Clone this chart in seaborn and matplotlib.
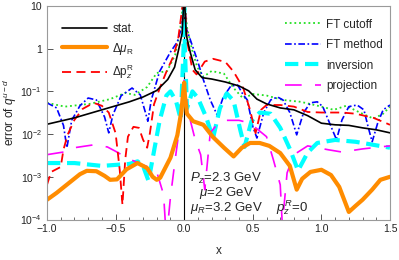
import numpy as np
import pandas as pd
import matplotlib
matplotlib.use("Agg")
import matplotlib.pyplot as plt
import seaborn as sns
from matplotlib.lines import Line2D

# ----------------------------
# Data
# ----------------------------
stat_x = [-1.0, -0.8, -0.6, -0.4, -0.3, -0.2, -0.12, -0.07, -0.04, -0.015, 0.0,
          0.015, 0.045, 0.08, 0.13, 0.2, 0.3, 0.4, 0.47, 0.53, 0.6, 0.7, 0.8,
          0.9, 1.0, 1.1, 1.2, 1.3, 1.4, 1.5]
stat_y = [0.017, 0.024, 0.037, 0.057, 0.074, 0.105, 0.19, 0.37, 0.97, 2.3, 20,
          2.1, 0.8, 0.32, 0.21, 0.195, 0.166, 0.134, 0.103, 0.066, 0.051, 0.041, 0.037,
          0.027, 0.018, 0.0165, 0.016, 0.014, 0.0126, 0.0107]

mu_x = [-1.0, -0.93, -0.83, -0.76, -0.71, -0.64, -0.58, -0.54, -0.49, -0.42, -0.34,
        -0.27, -0.23, -0.2, -0.175, -0.1, -0.05, -0.02, -0.007, 0.0, 0.005, 0.02,
        0.065, 0.14, 0.21, 0.29, 0.36, 0.42, 0.48, 0.55, 0.62, 0.7, 0.77, 0.82,
        0.86, 0.92, 1.0, 1.07, 1.13, 1.2, 1.25, 1.3, 1.37, 1.43, 1.5]
mu_y = [2.9e-4, 4.2e-4, 7.6e-4, 1.15e-3, 1.38e-3, 1.35e-3, 1.05e-3, 8.5e-4, 8.7e-4, 1.5e-3, 2.1e-3,
        1.6e-3, 1.0e-3, 8.5e-4, 9.5e-4, 2.8e-3, 9.4e-3, 0.035, 0.1, 0.16, 0.08, 0.03,
        0.02, 0.0165, 0.0085, 0.0048, 3.0e-3, 4.8e-3, 6.2e-3, 6.2e-3, 5.3e-3, 3.6e-3, 1.8e-3, 5e-4,
        9e-4, 1.3e-3, 1.46e-3, 1.1e-3, 5.8e-4, 1.5e-4, 2.1e-4, 2.9e-4, 5e-4, 8.5e-4, 1.0e-3]

pz_x = [-1.0, -0.97, -0.9, -0.88, -0.85, -0.8, -0.74, -0.66, -0.6, -0.55, -0.5,
        -0.47, -0.45, -0.43, -0.41, -0.37, -0.33, -0.3, -0.27, -0.25, -0.22, -0.175,
        -0.124, -0.08, -0.045, 0.0, 0.02, 0.06, 0.09, 0.15, 0.21, 0.3, 0.36, 0.43,
        0.48, 0.52, 0.56, 0.6, 0.7, 0.8, 0.9, 1.0, 1.15, 1.25, 1.38, 1.5]
pz_y = [6.5e-4, 1.3e-3, 1.7e-3, 4.3e-3, 9.6e-3, 0.0215, 0.039, 0.054, 0.046, 0.032, 0.0105,
        1.46e-3, 2.2e-4, 2.5e-3, 8.7e-3, 0.0148, 0.014, 0.0074, 0.0048, 0.0105, 0.05, 0.127,
        0.32, 0.65, 1.6, 20, 1.6, 0.32, 0.25, 0.5, 0.58, 0.49, 0.29, 0.12,
        0.037, 0.0105, 0.037, 0.048, 0.048, 0.044, 0.033, 0.032, 0.032, 0.03, 0.024, 0.0165]

cut_x = [-1.0, -0.87, -0.69, -0.54, -0.43, -0.36, -0.27, -0.2, -0.124, -0.066, -0.03,
         0.0, 0.02, 0.058, 0.095, 0.14, 0.2, 0.29, 0.36, 0.43, 0.5, 0.6, 0.72, 0.85,
         1.0, 1.09, 1.18, 1.28, 1.38, 1.45, 1.5]
cut_y = [0.054, 0.044, 0.051, 0.066, 0.092, 0.083, 0.127, 0.27, 0.30, 0.71, 2.7,
         20, 3.2, 0.93, 0.37, 0.22, 0.30, 0.26, 0.12, 0.068, 0.087, 0.08, 0.063, 0.057,
         0.044, 0.037, 0.046, 0.032, 0.023, 0.030, 0.044]

ft_x = [-1.0, -0.93, -0.88, -0.855, -0.82, -0.76, -0.7, -0.64, -0.58, -0.55, -0.52,
        -0.46, -0.38, -0.32, -0.28, -0.265, -0.24, -0.18, -0.1, -0.05, -0.015, 0.0,
        0.015, 0.045, 0.095, 0.14, 0.19, 0.24, 0.285, 0.34, 0.39, 0.43, 0.46, 0.5,
        0.53, 0.58, 0.63, 0.68, 0.72, 0.77, 0.82, 0.87, 0.92, 0.97, 1.01, 1.06,
        1.11, 1.15, 1.2, 1.26, 1.31, 1.34, 1.37, 1.41, 1.45, 1.5]
ft_y = [0.054, 0.041, 0.016, 0.0048, 0.021, 0.046, 0.07, 0.063, 0.025, 0.0107, 0.028,
        0.079, 0.12, 0.083, 0.03, 0.02, 0.063, 0.29, 0.84, 1.44, 3.6, 20,
        3.0, 1.6, 0.55, 0.186, 0.063, 0.028, 0.074, 0.134, 0.14, 0.083, 0.063, 0.015,
        0.0081, 0.032, 0.063, 0.074, 0.063, 0.032, 0.0096, 0.032, 0.054, 0.057, 0.044, 0.018,
        0.0074, 0.0215, 0.044, 0.048, 0.037, 0.015, 0.0066, 0.018, 0.037, 0.048]

inv_x = [-1.0, -0.8, -0.6, -0.5, -0.4, -0.34, -0.3, -0.26, -0.22, -0.18, -0.13,
         -0.1, -0.06, -0.025, -0.005, 0.0, 0.005, 0.02, 0.06, 0.1, 0.16, 0.21, 0.26,
         0.31, 0.36, 0.41, 0.44, 0.49, 0.55, 0.63, 0.7, 0.77, 0.83, 0.9, 0.97, 1.1,
         1.25, 1.38, 1.5]
inv_y = [2.1e-3, 2.1e-3, 1.8e-3, 1.9e-3, 2.0e-3, 2.3e-3, 1.8e-3, 8e-4, 4e-3, 0.02, 0.08,
         0.1, 0.06, 0.022, 1.0, 20, 1.0, 0.04, 0.1, 0.07, 0.025, 0.008, 0.04,
         0.09, 0.06, 0.012, 0.005, 0.02, 0.032, 0.03, 0.014, 0.0045, 0.0014, 0.0037, 0.0062, 0.0073,
         0.0066, 0.0056, 0.0048]

proj_x = [-1.0, -0.88, -0.8, -0.66, -0.56, -0.49, -0.42, -0.32, -0.24, -0.2, -0.15,
          -0.13, -0.1, -0.066, -0.03, -0.007, 0.0, 0.007, 0.03, 0.08, 0.12, 0.15, 0.19,
          0.24, 0.31, 0.4, 0.48, 0.6, 0.65, 0.7, 0.715, 0.75, 0.8, 0.9, 1.05, 1.15,
          1.3, 1.5]
proj_y = [3.3e-3, 3.8e-3, 4.8e-3, 5.6e-3, 5.0e-3, 3.8e-3, 2.8e-3, 2.0e-3, 1.6e-3, 1.3e-3, 3.8e-4,
          3.4e-5, 3.4e-4, 2.5e-3, 0.018, 0.11, 0.2, 0.1, 0.032, 7.4e-3, 3.3e-3, 5e-4, 0.0107,
          0.017, 0.021, 0.021, 0.018, 8.7e-3, 2.5e-3, 6.5e-4, 7.5e-5, 1.24e-3, 3.3e-3, 5.3e-3, 4.3e-3, 3.8e-3,
          4.5e-3, 5.3e-3]

x_ticks = [-1.0, -0.5, 0.0, 0.5, 1.0, 1.5]
x_tick_labels = ["\u22121.0", "\u22120.5", "0.0", "0.5", "1.0", "1.5"]
y_ticks = [1e-4, 1e-3, 1e-2, 1e-1, 1, 10]
y_tick_labels = ["$10^{-4}$", "$10^{-3}$", "$10^{-2}$", "$10^{-1}$", "1", "10"]

# ----------------------------
# Style
# ----------------------------
sns.set_style("ticks")
plt.rcParams["font.family"] = ["Liberation Sans", "DejaVu Sans"]
plt.rcParams["mathtext.fontset"] = "custom"
plt.rcParams["mathtext.rm"] = "Liberation Sans"
plt.rcParams["mathtext.it"] = "Liberation Sans:italic"
plt.rcParams["mathtext.bf"] = "Liberation Sans:bold"

fig = plt.figure(figsize=(3.99, 2.60), dpi=100)
ax = fig.add_axes([47 / 399, 1 - 219.5 / 260, 343 / 399, 213.5 / 260])

series = [
    (cut_x, cut_y, dict(color="#22e022", lw=1.3, ls=(0, (1, 1.6)))),
    (ft_x, ft_y, dict(color="#0000ff", lw=1.2, ls=(0, (4, 1.5, 1, 1.5)))),
    (inv_x, inv_y, dict(color="#00ffff", lw=3.0, ls=(0, (3.2, 1.6)))),
    (proj_x, proj_y, dict(color="#ff00ff", lw=1.2, ls=(0, (10, 8)))),
    (pz_x, pz_y, dict(color="#ff0000", lw=1.3, ls=(0, (5, 3)))),
    (mu_x, mu_y, dict(color="#ff8c00", lw=3.0, ls="-")),
    (stat_x, stat_y, dict(color="black", lw=1.2, ls="-")),
]
for xs, ys, kw in series:
    df = pd.DataFrame({"x": xs, "y": ys})
    sns.lineplot(data=df, x="x", y="y", ax=ax, sort=False, estimator=None,
                 color=kw["color"], linewidth=kw["lw"], linestyle=kw["ls"])

ax.axvline(0, color="black", lw=0.8, zorder=1)

ax.set_yscale("log")
ax.set_xlim(-1.0, 1.5)
ax.set_ylim(1e-4, 10)
ax.set_xticks(x_ticks)
ax.set_xticklabels(x_tick_labels)
ax.set_xticks(np.arange(-1.0, 1.51, 0.1), minor=True)
ax.set_yticks(y_ticks)
ax.set_yticklabels(y_tick_labels)
ax.yaxis.set_minor_locator(matplotlib.ticker.NullLocator())
ax.tick_params(axis="both", which="major", direction="in", length=4, width=0.7,
               labelsize=7.5, colors="#555555", labelcolor="#222222")
ax.tick_params(axis="x", which="minor", direction="in", length=2.5, width=0.6, colors="#555555")
for s in ax.spines.values():
    s.set_color("#9a9a9a")
    s.set_linewidth(0.8)

ax.set_xlabel("x", fontsize=8.5, labelpad=8)
ax.set_ylabel("error of $q^{u\u2212d}$", fontsize=8.5, labelpad=1)

# ----------------------------
# Legends
# ----------------------------
h_left = [
    Line2D([], [], color="black", lw=1.2),
    Line2D([], [], color="#ff8c00", lw=3.0),
    Line2D([], [], color="#ff0000", lw=1.3, ls=(0, (5, 3))),
]
l_left = ["stat.", "\u0394$\\mu_\\mathrm{R}$", "\u0394$\\mathrm{p}_z^\\mathrm{R}$"]
leg1 = ax.legend(h_left, l_left, loc="upper left", bbox_to_anchor=(0.030, 0.944),
                 frameon=False, fontsize=8.5, handlelength=3.8, labelspacing=0.5,
                 handletextpad=0.45, borderaxespad=0)
ax.add_artist(leg1)

h_right = [
    Line2D([], [], color="#22e022", lw=1.3, ls=(0, (1, 1.6))),
    Line2D([], [], color="#0000ff", lw=1.2, ls=(0, (4, 1.5, 1, 1.5))),
    Line2D([], [], color="#00ffff", lw=3.0, ls=(0, (3.2, 1.6))),
    Line2D([], [], color="#ff00ff", lw=1.2, ls=(0, (10, 8))),
]
l_right = ["FT cutoff", "FT method", "inversion", "projection"]
ax.legend(h_right, l_right, loc="upper left", bbox_to_anchor=(0.68, 0.963),
          frameon=False, fontsize=8.5, handlelength=3.05, labelspacing=0.72,
          handletextpad=0.45, borderaxespad=0)

# ----------------------------
# Annotations
# ----------------------------
ax.text(0.522, 0.194, "$P_z$=2.3 GeV", transform=ax.transAxes, ha="center", va="center", fontsize=9.5)
ax.text(0.522, 0.124, "$\\mu$=2 GeV", transform=ax.transAxes, ha="center", va="center", fontsize=9.5)
ax.text(0.522, 0.054, "$\\mu_R$=3.2 GeV", transform=ax.transAxes, ha="center", va="center", fontsize=9.5)
ax.text(0.715, 0.054, "$p_z^R$=0", transform=ax.transAxes, ha="center", va="center", fontsize=9.5)

fig.savefig("out.png", dpi=100)
